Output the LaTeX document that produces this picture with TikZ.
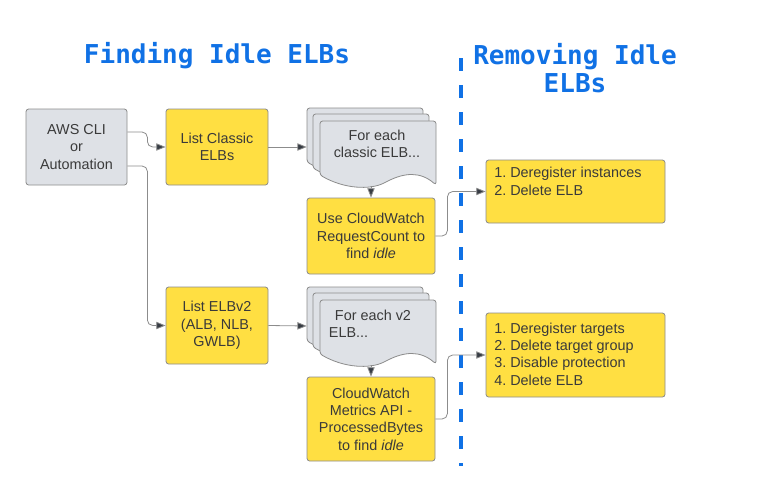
\documentclass[tikz,border=0pt]{standalone}
\usepackage{fontspec}
\setmainfont{Liberation Sans}
\newfontfamily\titlefont{DejaVu Sans Mono}
\usetikzlibrary{arrows.meta}
\definecolor{ELBYellow}{RGB}{255, 223,  66}
\definecolor{ELBGris}{RGB}{222, 225, 230}
\definecolor{ELBBord}{RGB}{140, 140, 140}
\definecolor{ELBTexte}{RGB}{ 58,  58,  58}
\definecolor{ELBBleu}{RGB}{ 16, 113, 229}
\definecolor{ELBFleche}{RGB}{ 55,  60,  68}

\tikzset{
  box/.style={draw=ELBBord, rounded corners=2pt, line width=0.6pt, text=ELBTexte,
    font=\fontsize{10.8}{13}\selectfont, align=center, inner sep=0pt},
  greybox/.style={box, fill=ELBGris},
  yellowbox/.style={box, fill=ELBYellow},
  conn/.style={draw=ELBBord, line width=0.6pt, rounded corners=4pt,
    -{Triangle[length=7pt,width=5.5pt,fill=ELBFleche]}},
  title/.style={text=ELBBleu, font=\titlefont\bfseries\fontsize{19.5}{21}\selectfont, align=center},
  listtext/.style={text=ELBTexte, font=\fontsize{10.8}{13}\selectfont, align=left, inner sep=0pt},
  elbdoc/.pic={
    \draw[fill=ELBGris, draw=ELBBord, line width=0.6pt, rounded corners=2pt]
      (0,54) -- (0,0) -- (116,0) -- (116,64)
      .. controls (100,50) and (84,52) .. (66,61)
      .. controls (50,69) and (24,68) .. (0,54) -- cycle;
  }
}

\begin{document}
\begin{tikzpicture}[x=0.75pt, y=-0.75pt]
  \useasboundingbox (0,0) rectangle (768,493);

  % titles
  \node[title] (findtitle) at (217,56) {Finding Idle ELBs};
  \node[title] (removetitle) at (575,68) {Removing Idle\\ELBs};
  \draw[ELBBleu, line width=2.4pt, dash pattern=on 9.75pt off 10.5pt] (461,58) -- (461,466);

  % finding column
  \node[greybox, minimum width=75.75pt, minimum height=57pt] (aws) at (76.5,147) {AWS CLI\\or\\Automation};
  \node[yellowbox, minimum width=76.5pt, minimum height=57pt] (classic) at (217,147) {List Classic\\ELBs};
  \node[yellowbox, minimum width=76.5pt, minimum height=57.75pt] (v2) at (217,325.5) {List ELBv2\\(ALB, NLB,\\GWLB)};

  \pic at (307,108) {elbdoc};
  \pic at (313,114) {elbdoc};
  \pic at (320,121) {elbdoc};
  \node[minimum width=96pt, minimum height=58.5pt, inner sep=0pt] (docA) at (371,147) {};
  \node[listtext, align=center] (docAtxt) at (377,144) {For each\\classic ELB...};

  \pic at (307,287) {elbdoc};
  \pic at (313,293) {elbdoc};
  \pic at (320,300) {elbdoc};
  \node[minimum width=96pt, minimum height=58.5pt, inner sep=0pt] (docB) at (371,326) {};
  \node[listtext] (docBtxt) at (370,324) {\hspace{4.5pt}For each v2\\ELB...};

  \node[yellowbox, minimum width=96pt, minimum height=57pt] (cwA) at (371,236) {Use CloudWatch\\RequestCount to\\find \textit{idle}};
  \node[yellowbox, minimum width=96pt, minimum height=63pt] (cwB) at (371,419) {CloudWatch\\Metrics API -\\ProcessedBytes\\to find \textit{idle}};

  % removing column
  \node[yellowbox, minimum width=134.25pt, minimum height=47.25pt] (rmA) at (575.5,191.5) {};
  \node[listtext, anchor=north west] (rmAtxt) at (494,167) {1.\hspace{3pt}Deregister instances\\2.\hspace{3pt}Delete ELB};
  \node[yellowbox, minimum width=134.25pt, minimum height=63pt] (rmB) at (575.5,355) {};
  \node[listtext, anchor=west] (rmBtxt) at (494,354) {1.\hspace{3pt}Deregister targets\\2.\hspace{3pt}Delete target group\\3.\hspace{3pt}Disable protection\\4.\hspace{3pt}Delete ELB};

  % connectors
  \draw[conn] ([yshift=11.25pt]aws.east) -- ++(20,0) |- (classic.west);
  \draw[conn] ([yshift=-14.25pt]aws.east) -- ++(20,0) |- (v2.west);
  \draw[conn] (classic.east) -- (docA.west);
  \draw[conn] (v2.east) -- (docB.west);
  \draw[conn] (docA.south) -- (cwA.north);
  \draw[conn] (docB.south) -- (cwB.north);
  \draw[conn] (cwA.east) -- ++(12,0) |- (rmA.west);
  \draw[conn] (cwB.east) -- ++(12,0) |- (rmB.west);
\end{tikzpicture}
\end{document}
